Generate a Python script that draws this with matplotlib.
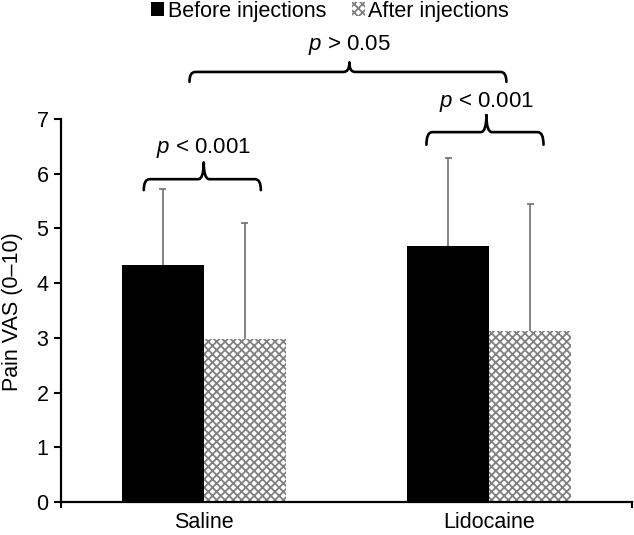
import numpy as np
import matplotlib
matplotlib.use("Agg")
import matplotlib.pyplot as plt
from matplotlib.path import Path
from matplotlib.patches import PathPatch, Patch

plt.rcParams['font.family'] = ['Liberation Sans', 'DejaVu Sans']
plt.rcParams['mathtext.fontset'] = 'custom'
plt.rcParams['mathtext.rm'] = 'Liberation Sans'
plt.rcParams['mathtext.it'] = 'Liberation Sans:italic'
plt.rcParams['hatch.linewidth'] = 1.3

# dati
groups = ['Saline', 'Lidocaine']
series = ['Before injections', 'After injections']
before_mean = [4.33, 4.68]
before_sd = [1.39, 1.61]
after_mean = [2.98, 3.13]
after_sd = [2.12, 2.32]

# annotazioni (parentesi graffe): x0, x1, xc, y estremi, y barra, y punta, y testo, testo
braces = [
    (-0.21, 0.20, 0.0, 5.70, 5.90, 6.20, 6.47, '$p$ < 0.001'),
    (0.78, 1.19, 0.99, 6.53, 6.76, 7.07, 7.31, '$p$ < 0.001'),
    (-0.05, 1.06, 0.51, 7.68, 7.86, 8.03, 8.35, '$p$ > 0.05'),
]


def brace(ax, x0, x1, xc, y_end, y_bar, y_tip, dx=0.02):
    verts = [(x0, y_end), (x0, y_bar), (x0 + dx, y_bar),
             (xc - dx, y_bar), (xc, y_bar), (xc, y_tip),
             (xc, y_tip), (xc, y_bar), (xc + dx, y_bar),
             (x1 - dx, y_bar), (x1, y_bar), (x1, y_end)]
    codes = [Path.MOVETO, Path.CURVE3, Path.CURVE3,
             Path.LINETO, Path.CURVE3, Path.CURVE3,
             Path.MOVETO, Path.CURVE3, Path.CURVE3,
             Path.LINETO, Path.CURVE3, Path.CURVE3]
    ax.add_patch(PathPatch(Path(verts, codes), fill=False, lw=1.9,
                           edgecolor='black', clip_on=False,
                           capstyle='round', joinstyle='round'))


def upper_err(ax, xs, mean, sd, cap=0.013):
    top = np.array(mean) + np.array(sd)
    ax.vlines(xs, mean, top, color='#707070', lw=1.2, zorder=3)
    ax.hlines(top, xs - cap, xs + cap, color='#707070', lw=1.2, zorder=3)


fig = plt.figure(figsize=(6.34, 5.35), dpi=100)
W, H = 634, 535
ax = fig.add_axes([61 / W, (H - 502) / H, (632 - 61) / W, (502 - 119) / H])

x = np.arange(len(groups))
w = 0.287

ax.bar(x - w / 2, before_mean, w, color='black', linewidth=0)
ax.bar(x + w / 2, after_mean, w, color='white', edgecolor='#808080',
       hatch='xxxx', linewidth=0)
upper_err(ax, x - w / 2, before_mean, before_sd)
upper_err(ax, x + w / 2, after_mean, after_sd)

ax.set_xlim(-0.5, 1.5)
ax.set_ylim(0, 7)
ax.set_yticks(range(0, 8))
ax.set_xticks(x)
ax.set_xticklabels(groups)
ax.tick_params(axis='x', length=0, labelsize=15.5, pad=7)
ax.tick_params(axis='y', length=5, width=1.5, labelsize=15.5, pad=4)
ax.set_xticks([-0.5, 1.5], minor=True)
ax.tick_params(axis='x', which='minor', length=4, width=1.5)

for s in ['top', 'right']:
    ax.spines[s].set_visible(False)
for s in ['left', 'bottom']:
    ax.spines[s].set_linewidth(1.6)

fig.text(13 / W, 1 - 312 / H, 'Pain VAS (0–10)', rotation=90,
         ha='center', va='center', fontsize=15.5)

for x0, x1, xc, ye, yb, yt, ytxt, txt in braces:
    brace(ax, x0, x1, xc, ye, yb, yt)
    ax.text(xc, ytxt, txt, ha='center', va='center', fontsize=16,
            clip_on=False)

handles = [Patch(facecolor='black', edgecolor='black', linewidth=0),
           Patch(facecolor='white', edgecolor='#808080', hatch='xxxx', linewidth=0)]
fig.legend(handles, series, loc='center', bbox_to_anchor=(330 / W, 1 - 11 / H),
           ncol=2, frameon=False, fontsize=15.5, handlelength=0.6,
           handleheight=0.6, handletextpad=0.15, columnspacing=1.2)

fig.savefig('out.png', dpi=100)
